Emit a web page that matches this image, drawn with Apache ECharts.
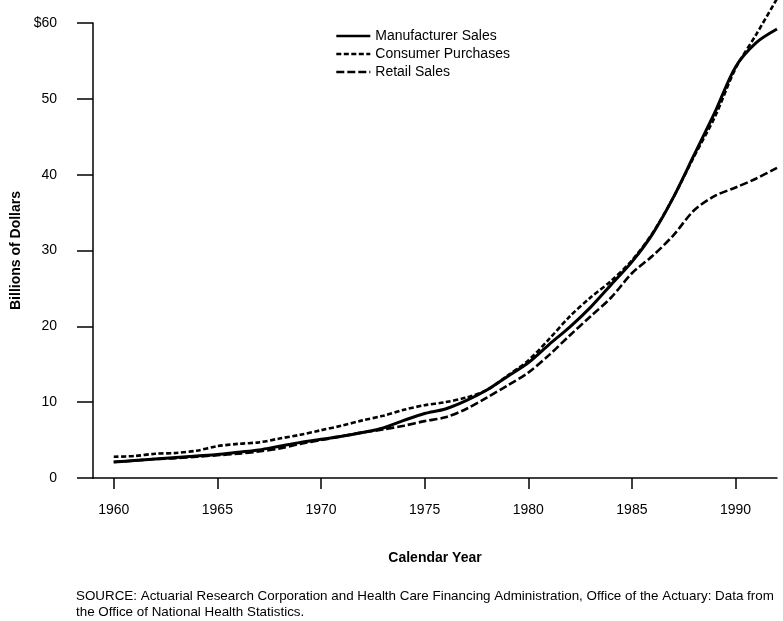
<!DOCTYPE html>
<html>
<head>
<meta charset="utf-8">
<script src="https://cdn.jsdelivr.net/npm/echarts@6/dist/echarts.min.js"></script>
<style>
  html, body { margin: 0; padding: 0; background: #fff; }
  #chart { width: 783px; height: 621px; }
</style>
</head>
<body>
<div id="chart"></div>
<script>
const years = [1960,1961,1962,1963,1964,1965,1966,1967,1968,1969,1970,1971,1972,1973,1974,1975,1976,1977,1978,1979,1980,1981,1982,1983,1984,1985,1986,1987,1988,1989,1990,1991,1992];
const manufacturerSales = [2.1,2.3,2.5,2.7,2.9,3.1,3.4,3.7,4.2,4.7,5.1,5.5,6.0,6.6,7.6,8.5,9.1,10.2,11.6,13.4,15.2,17.6,19.9,22.5,25.5,28.5,32.2,37.0,42.6,48.2,54.2,57.4,59.2];
const consumerPurchases = [2.8,2.9,3.2,3.3,3.6,4.2,4.5,4.7,5.2,5.7,6.3,6.9,7.6,8.2,9.0,9.6,10.0,10.6,11.6,13.5,15.5,18.3,21.3,23.8,26.0,28.7,32.3,37.0,42.4,47.6,54.0,58.5,63.2];
const retailSales = [2.1,2.3,2.5,2.6,2.8,3.0,3.2,3.5,3.9,4.5,5.0,5.5,6.0,6.4,6.9,7.5,8.0,9.1,10.6,12.2,13.9,16.2,18.8,21.3,23.8,27.0,29.3,32.0,35.3,37.2,38.3,39.5,40.9];
const seriesNames = ['Manufacturer Sales', 'Consumer Purchases', 'Retail Sales'];
const xTickValues = [1960,1965,1970,1975,1980,1985,1990];
const yTickLabels = ['0','10','20','30','40','50','$60'];
const sourceText = 'SOURCE: Actuarial Research Corporation and Health Care Financing Administration, Office of the Actuary: Data from\nthe Office of National Health Statistics.';

const FONT = '"Liberation Sans", Arial, Helvetica, sans-serif';
const pair = arr => years.map((y, i) => [y, arr[i]]);

const chart = echarts.init(document.getElementById('chart'), null, { renderer: 'canvas' });
chart.setOption({
  animation: false,
  backgroundColor: '#fff',
  textStyle: { fontFamily: FONT, color: '#000' },
  grid: { left: 93, right: 6, top: 23, bottom: 143, containLabel: false },
  legend: {
    orient: 'vertical',
    left: 330,
    top: 24,
    itemWidth: 34,
    itemHeight: 14,
    itemGap: 4,
    itemStyle: { opacity: 0, borderWidth: 0 },
    lineStyle: { width: 2.6 },
    textStyle: { fontFamily: FONT, fontSize: 14, color: '#000' },
    data: seriesNames
  },
  xAxis: {
    type: 'value',
    min: 1959,
    max: 1992,
    name: 'Calendar Year',
    nameLocation: 'middle',
    nameGap: 73,
    nameTextStyle: { fontFamily: FONT, fontSize: 14, fontWeight: 'bold', color: '#000' },
    axisLine: { show: true, lineStyle: { color: '#000', width: 1.5 } },
    axisTick: { show: true, length: 11, inside: false, customValues: xTickValues, lineStyle: { color: '#000', width: 1.5 } },
    axisLabel: { customValues: xTickValues, margin: 25, fontSize: 14, color: '#000', fontFamily: FONT, formatter: v => String(v) },
    splitLine: { show: false }
  },
  yAxis: {
    type: 'value',
    min: 0,
    max: 60,
    interval: 10,
    name: 'Billions of Dollars',
    nameLocation: 'middle',
    nameGap: 70,
    nameRotate: 90,
    nameTextStyle: { fontFamily: FONT, fontSize: 14, fontWeight: 'bold', color: '#000' },
    axisLine: { show: true, lineStyle: { color: '#000', width: 1.5 } },
    axisTick: { show: true, length: 16, inside: false, lineStyle: { color: '#000', width: 1.5 } },
    axisLabel: { margin: 36, fontSize: 14, color: '#000', fontFamily: FONT, formatter: v => yTickLabels[Math.round(v / 10)] },
    splitLine: { show: false }
  },
  graphic: [{
    type: 'text',
    left: 76,
    top: 588,
    style: { text: sourceText, font: '13.4px ' + FONT, fill: '#000', lineHeight: 16 }
  }],
  series: [
    {
      name: seriesNames[0], type: 'line', data: pair(manufacturerSales),
      symbol: 'none', smooth: 0.3, clip: false,
      lineStyle: { color: '#000', width: 3, type: 'solid' },
      itemStyle: { color: '#000' }
    },
    {
      name: seriesNames[1], type: 'line', data: pair(consumerPurchases),
      symbol: 'none', smooth: 0.3, clip: false,
      lineStyle: { color: '#000', width: 2.6, type: [5, 2.5] },
      itemStyle: { color: '#000' }
    },
    {
      name: seriesNames[2], type: 'line', data: pair(retailSales),
      symbol: 'none', smooth: 0.3, clip: false,
      lineStyle: { color: '#000', width: 2.6, type: [8, 3] },
      itemStyle: { color: '#000' }
    }
  ]
});
</script>
</body>
</html>
